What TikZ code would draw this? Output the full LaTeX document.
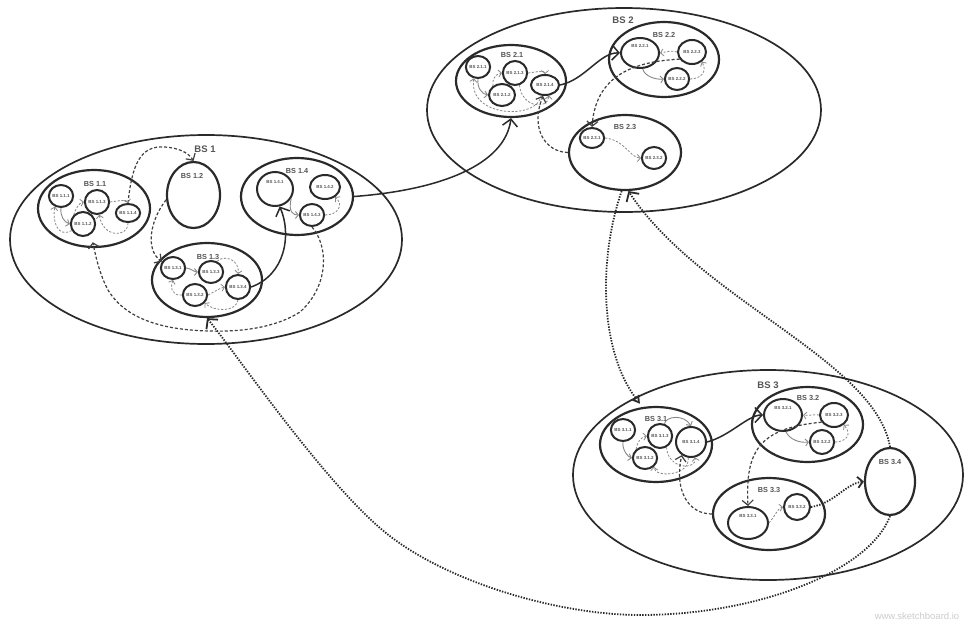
\documentclass[tikz,border=0pt]{standalone}
\usepackage{fontspec}
\setmainfont{Liberation Sans}
\usetikzlibrary{shapes.geometric,arrows.meta}
\definecolor{ink}{HTML}{2A2A2A}
\definecolor{lab}{HTML}{555555}
\definecolor{dgray}{HTML}{404040}
\definecolor{lgray}{HTML}{888888}
\definecolor{wmc}{HTML}{CCCCCC}
\begin{document}
\begin{tikzpicture}[x=1pt,y=-1pt,
 big/.style={draw=ink,line width=1.7pt,ellipse,inner sep=0pt},
 grp/.style={draw=ink,line width=2.2pt,ellipse,inner sep=0pt},
 leaf/.style={draw=ink,line width=2pt,ellipse,inner sep=0pt,font=\fontsize{4.4}{5}\selectfont\bfseries,text=lab},
 raised/.style={text height=3pt,text depth=14pt},
 bigtitle/.style={font=\fontsize{9.5}{10}\selectfont\bfseries,text=lab,inner sep=0pt},
 grptitle/.style={font=\fontsize{7.3}{8}\selectfont\bfseries,text=lab,inner sep=0pt},
 main/.style={draw=ink,line width=1.5pt},
 dotbig/.style={draw=ink,line width=1.8pt,dash pattern=on 1.4pt off 1.4pt},
 dashdark/.style={draw=dgray,line width=1.2pt,dash pattern=on 3pt off 2pt},
 dashgray/.style={draw=lgray,line width=0.8pt,dash pattern=on 2.2pt off 1.6pt},
 thingray/.style={draw=lgray,line width=0.9pt},
 vbig/.style={-{Straight Barb[length=7pt,width=15pt]}},
 vmid/.style={-{Straight Barb[length=5pt,width=11pt]}},
 vsmall/.style={-{Straight Barb[length=3pt,width=7pt]}},
 wmark/.style={font=\fontsize{9.5}{11}\selectfont,text=wmc,inner sep=0pt}
]
\fill[white] (0,0) rectangle (975,629);
\useasboundingbox (0,0) rectangle (975,629);

% ---------------- BS 1 ----------------
\node[big,minimum width=392pt,minimum height=209pt] (b1) at (206,239.5) {};
\node[bigtitle] (t1) at (205,149) {BS 1};
\node[grp,minimum width=112pt,minimum height=77pt] (b11) at (94,208.5) {};
\node[grptitle] (t11) at (95,184) {BS 1.1};
\node[leaf,minimum width=22pt,minimum height=22pt] (b111) at (61,196) {BS 1.1.1};
\node[leaf,minimum width=24pt,minimum height=24pt] (b113) at (97,202) {BS 1.1.3};
\node[leaf,minimum width=24pt,minimum height=24pt] (b112) at (83,224) {BS 1.1.2};
\node[leaf,minimum width=24pt,minimum height=18pt] (b114) at (128,213) {BS 1.1.4};
\node[grp,minimum width=53pt,minimum height=66pt] (b12) at (193.5,195) {};
\node[grptitle] (t12) at (192,176) {BS 1.2};
\node[grp,minimum width=112pt,minimum height=77pt] (b14) at (297,196.5) {};
\node[grptitle] (t14) at (297,171) {BS 1.4};
\node[leaf,raised,minimum width=36pt,minimum height=34pt] (b141) at (275,189) {BS 1.4.1};
\node[leaf,minimum width=30pt,minimum height=24pt] (b142) at (325,187) {BS 1.4.2};
\node[leaf,minimum width=22pt,minimum height=22pt] (b143) at (312,215) {BS 1.4.3};
\node[grp,minimum width=110pt,minimum height=74pt] (b13) at (207,280) {};
\node[grptitle] (t13) at (208,257) {BS 1.3};
\node[leaf,minimum width=22pt,minimum height=22pt] (b131) at (173,268) {BS 1.3.1};
\node[leaf,minimum width=22pt,minimum height=22pt] (b133) at (211,272) {BS 1.3.3};
\node[leaf,minimum width=22pt,minimum height=22pt] (b132) at (195,295) {BS 1.3.2};
\node[leaf,minimum width=24pt,minimum height=24pt] (b134) at (238,287) {BS 1.3.4};

% ---------------- BS 2 ----------------
\node[big,minimum width=394pt,minimum height=204pt] (b2) at (624,110) {};
\node[bigtitle] (t2) at (623,20) {BS 2};
\node[grp,minimum width=110pt,minimum height=72pt] (b21) at (511,81) {};
\node[grptitle] (t21) at (512,55) {BS 2.1};
\node[leaf,minimum width=22pt,minimum height=22pt] (b211) at (478,67) {BS 2.1.1};
\node[leaf,minimum width=24pt,minimum height=24pt] (b213) at (515,73) {BS 2.1.3};
\node[leaf,minimum width=26pt,minimum height=22pt] (b212) at (502,95) {BS 2.1.2};
\node[leaf,minimum width=28pt,minimum height=20pt] (b214) at (545,85) {BS 2.1.4};
\node[grp,minimum width=110pt,minimum height=75pt] (b22) at (664,59.5) {};
\node[grptitle] (t22) at (664,35) {BS 2.2};
\node[leaf,raised,minimum width=38pt,minimum height=30pt] (b221) at (640,53) {BS 2.2.1};
\node[leaf,minimum width=28pt,minimum height=24pt] (b223) at (692,52) {BS 2.2.3};
\node[leaf,minimum width=22pt,minimum height=22pt] (b222) at (677,79) {BS 2.2.2};
\node[grp,minimum width=112pt,minimum height=75pt] (b23) at (625,152.5) {};
\node[grptitle] (t23) at (625,127) {BS 2.3};
\node[leaf,minimum width=22pt,minimum height=20pt] (b231) at (592,138) {BS 2.3.1};
\node[leaf,minimum width=22pt,minimum height=22pt] (b232) at (654,158) {BS 2.3.2};

% ---------------- BS 3 ----------------
\node[big,minimum width=390pt,minimum height=210pt] (b3) at (768,475) {};
\node[bigtitle] (t3) at (768,385) {BS 3};
\node[grp,minimum width=112pt,minimum height=75pt] (b31) at (656,444.5) {};
\node[grptitle] (t31) at (656,419) {BS 3.1};
\node[leaf,minimum width=22pt,minimum height=22pt] (b311) at (623,430) {BS 3.1.1};
\node[leaf,minimum width=24pt,minimum height=24pt] (b313) at (660,436) {BS 3.1.3};
\node[leaf,minimum width=24pt,minimum height=22pt] (b312) at (645,458) {BS 3.1.2};
\node[leaf,minimum width=30pt,minimum height=30pt] (b314) at (691,442) {BS 3.1.4};
\node[grp,minimum width=111pt,minimum height=75pt] (b32) at (807.5,424.5) {};
\node[grptitle] (t32) at (808,398) {BS 3.2};
\node[leaf,raised,minimum width=38pt,minimum height=32pt] (b321) at (783,415) {BS 3.2.1};
\node[leaf,minimum width=28pt,minimum height=24pt] (b323) at (834,415) {BS 3.2.3};
\node[leaf,minimum width=22pt,minimum height=24pt] (b322) at (822,442) {BS 3.2.2};
\node[grp,minimum width=112pt,minimum height=72pt] (b33) at (769,514) {};
\node[grptitle] (t33) at (769,490) {BS 3.3};
\node[leaf,raised,minimum width=40pt,minimum height=32pt] (b331) at (748,523) {BS 3.3.1};
\node[leaf,minimum width=26pt,minimum height=26pt] (b332) at (797,507) {BS 3.3.2};
\node[grp,minimum width=50pt,minimum height=67pt] (b34) at (890,481.5) {};
\node[grptitle] (t34) at (890,462) {BS 3.4};

% ---------------- connectors BS 1 ----------------
\draw[dashdark,vmid] (b114.north) .. controls (132,165) and (140,145) .. (165,147) .. controls (178,148) and (188,152) .. (b12.north);
\draw[dashdark,vmid] (b12.190) .. controls (150,220) and (145,250) .. (b131.150);
\draw[dashdark,vmid,shorten >=-6pt] (b143.south) .. controls (328,245) and (330,285) .. (300,312) .. controls (275,328) and (240,332) .. (210,331) .. controls (160,330) and (125,318) .. (108,290) .. controls (100,275) and (96,258) .. (b11.south);
\draw[main,vbig] (b134.east) .. controls (285,275) and (292,235) .. (b141.-75);
\draw[thingray,vsmall] (b141.-30) .. controls (288,212) and (293,215) .. (b143.west);
\draw[dashgray,vsmall] (b143.east) .. controls (338,215) and (344,205) .. (b142.-45);
\draw[thingray,vsmall] (b111.south) .. controls (60,216) and (64,222) .. (b112.west);
\draw[dashgray,vsmall] (b112.135) .. controls (76,208) and (79,203) .. (b113.west);
\draw[dashgray,vsmall] (b113.east) .. controls (118,201) and (127,199) .. (b114.north);
\draw[dashgray,vsmall] (b114.south) .. controls (128,238) and (103,238) .. (b113.-80);
\draw[dashgray,vsmall] (b112.-150) .. controls (58,238) and (52,222) .. (b111.-120);
\draw[thingray,vsmall] (b131.east) .. controls (190,268) and (194,272) .. (b133.west);
\draw[dashgray,vsmall] (b133.60) .. controls (222,255) and (240,258) .. (b134.north);
\draw[dashgray,vsmall] (b132.east) .. controls (214,292) and (220,288) .. (b134.west);
\draw[dashgray,vsmall] (b132.west) .. controls (172,296) and (170,288) .. (b131.south);
\draw[dashgray,vsmall] (b134.south) .. controls (236,312) and (215,312) .. (b132.-40);

% ---------------- BS 1 -> BS 2 ----------------
\draw[main,vbig] (b14.east) .. controls (440,190) and (505,165) .. (b21.south);

% ---------------- connectors BS 2 ----------------
\draw[thingray,vsmall] (b211.south) .. controls (477,88) and (482,94) .. (b212.west);
\draw[dashgray,vsmall] (b212.135) .. controls (492,80) and (495,74) .. (b213.west);
\draw[dashgray,vsmall] (b213.east) .. controls (536,72) and (545,70) .. (b214.north);
\draw[dashgray,vsmall] (b214.-110) .. controls (538,120) and (468,118) .. (b211.-110);
\draw[dashgray,vsmall] (b213.-70) .. controls (522,108) and (548,110) .. (b214.-70);
\draw[main,vbig] (b214.east) .. controls (585,80) and (600,52) .. (b221.west);
\draw[thingray,vsmall] (b221.-80) .. controls (644,76) and (656,80) .. (b222.west);
\draw[dashgray,vsmall] (b222.east) .. controls (700,79) and (708,72) .. (b223.-45);
\draw[dashgray,vsmall] (b223.west) .. controls (672,50) and (666,52) .. (b221.east);
\draw[dashdark,vmid] (b223.-150) .. controls (620,62) and (595,85) .. (b231.north);
\draw[dashdark,vmid] (b23.west) .. controls (545,152) and (530,128) .. (b214.-100);
\draw[dashgray,vsmall] (b231.east) .. controls (625,140) and (630,158) .. (b232.west);

% ---------------- BS 2 <-> BS 3 ----------------
\draw[dotbig,-{Triangle[open,length=8pt,width=9pt]},shorten >=4pt] (b23.-95) .. controls (598,260) and (600,350) .. (b31.110);
\draw[dotbig,vbig] (b34.north) .. controls (875,360) and (700,300) .. (b23.-85);

% ---------------- connectors BS 3 ----------------
\draw[thingray,vsmall] (b311.south) .. controls (622,450) and (628,457) .. (b312.west);
\draw[dashgray,vsmall] (b312.135) .. controls (637,442) and (641,437) .. (b313.west);
\draw[thingray,vsmall] (b313.70) .. controls (666,416) and (684,414) .. (b314.north);
\draw[dashgray,vsmall] (b314.-100) .. controls (690,476) and (655,478) .. (b312.-45);
\draw[dashgray,vsmall] (b313.-60) .. controls (668,470) and (697,470) .. (b314.-75);
\draw[main,vbig] (b314.east) .. controls (730,436) and (748,415) .. (b321.west);
\draw[thingray,vsmall] (b321.-80) .. controls (790,440) and (800,443) .. (b322.west);
\draw[dashgray,vsmall] (b322.east) .. controls (845,442) and (853,435) .. (b323.-45);
\draw[dashgray,vsmall] (b323.west) .. controls (815,414) and (809,416) .. (b321.east);
\draw[dashdark,vmid] (b323.-150) .. controls (760,428) and (745,450) .. (b331.north);
\draw[dashdark,vmid] (b33.west) .. controls (688,514) and (674,490) .. (b314.-125);
\draw[dashgray,vsmall] (b331.east) .. controls (775,516) and (778,508) .. (b332.west);
\draw[dotbig,vmid] (b332.east) .. controls (835,503) and (845,484) .. (b34.west);

% ---------------- BS 3.4 -> BS 1.3 ----------------
\draw[dotbig,vbig] (b34.south) .. controls (870,570) and (760,615) .. (640,615)
  .. controls (560,615) and (448,583) .. (386,533)
  .. controls (324,483) and (235,352) .. (b13.south);

\node[wmark] (wm) at (917,616) {www.sketchboard.io};
\end{tikzpicture}
\end{document}
